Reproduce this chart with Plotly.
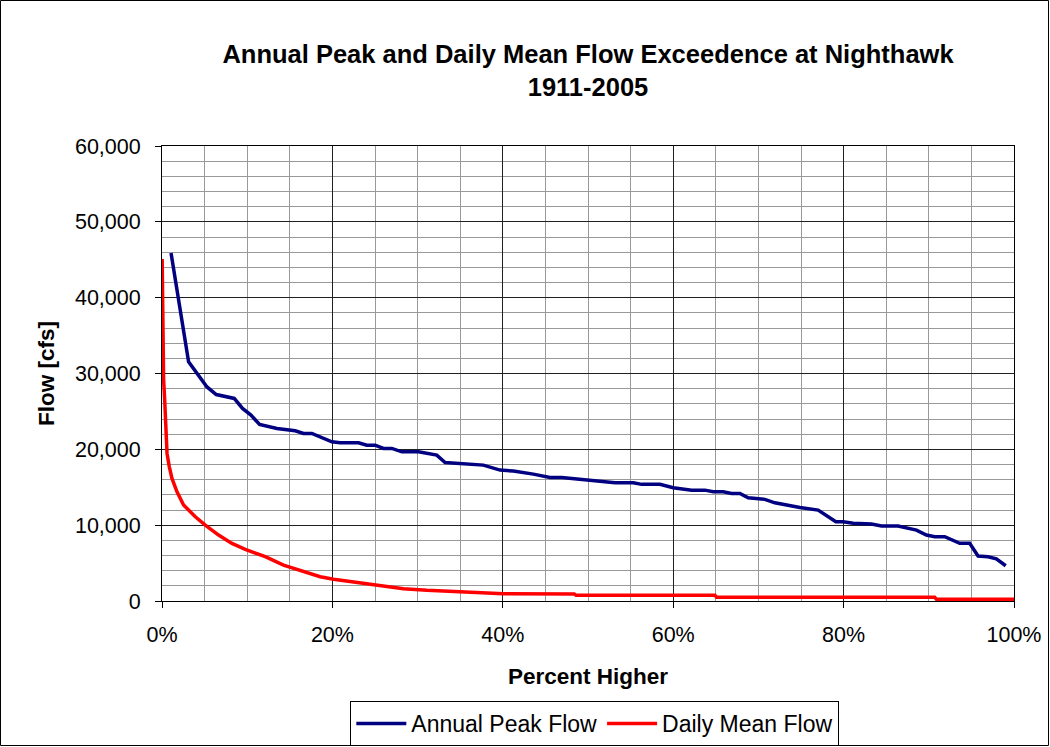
import plotly.graph_objects as go

# Annual peak flow exceedance (percent higher, cfs) - vertices
peak_pct = [1.06, 3.12, 5.28, 6.37, 8.48, 9.45, 10.44, 11.45, 13.49, 15.63, 16.61, 17.59,
            19.94, 20.91, 23.06, 24.04, 25.02, 25.99, 26.98, 28.15, 30.10, 32.25, 33.23,
            35.37, 37.72, 39.68, 41.24, 43.58, 45.54, 46.92, 50.03, 51.99, 53.17, 55.31,
            56.30, 58.44, 60.00, 62.16, 63.72, 64.70, 65.87, 66.85, 67.83, 68.80, 70.76,
            71.93, 74.87, 77.01, 78.00, 79.09, 79.94, 81.12, 83.27, 84.45, 86.39, 88.55,
            89.72, 90.70, 91.87, 93.63, 94.80, 95.78, 96.95, 97.93, 99.03]
peak_flow = [45900, 31530, 28230, 27230, 26710, 25390, 24510, 23280, 22750, 22440, 22090, 22090,
             20990, 20860, 20860, 20550, 20550, 20120, 20120, 19670, 19670, 19240, 18270,
             18140, 17920, 17260, 17130, 16730, 16300, 16300, 15940, 15810, 15590, 15590,
             15380, 15380, 14930, 14620, 14620, 14400, 14400, 14190, 14190, 13610, 13400,
             12950, 12320, 11990, 11240, 10450, 10450, 10240, 10140, 9880, 9880, 9350,
             8700, 8470, 8470, 7600, 7600, 5930, 5840, 5570, 4650]

# Daily mean flow exceedance - vertices
daily_pct = [0.02, 0.06, 0.10, 0.19, 0.30, 0.39, 0.50, 0.59, 0.86, 1.17, 1.76, 2.53, 3.91,
             5.08, 6.64, 8.21, 9.77, 12.12, 14.26, 16.61, 18.57, 20.13, 22.09, 24.43, 26.39,
             28.34, 31.08, 34.99, 40.07, 48.40, 48.60, 64.90, 65.10, 90.70, 90.90, 100.0]
daily_flow = [45100, 38000, 32000, 29120, 26900, 24730, 22090, 19460, 17690, 16160, 14400,
              12650, 11110, 10010, 8700, 7600, 6810, 5840, 4740, 3860, 3200, 2860, 2540,
              2200, 1880, 1620, 1410, 1190, 960, 920, 750, 750, 490, 490, 220, 220]

x_ticks = [0, 20, 40, 60, 80, 100]
y_ticks = [0, 10000, 20000, 30000, 40000, 50000, 60000]

FONT = "Arial, Liberation Sans, sans-serif"

fig = go.Figure()
fig.add_trace(go.Scatter(x=peak_pct, y=peak_flow, mode="lines", name="Annual Peak Flow",
                         line=dict(color="#000080", width=3.5)))
fig.add_trace(go.Scatter(x=daily_pct, y=daily_flow, mode="lines", name="Daily Mean Flow",
                         line=dict(color="#FF0000", width=3.5)))

L, R, T, B = 162, 36, 146, 146
W, H = 1050, 747
pw, ph = W - L - R, H - T - B

fig.update_layout(
    width=W, height=H,
    margin=dict(l=L, r=R, t=T, b=B, autoexpand=False),
    paper_bgcolor="white", plot_bgcolor="white",
    font=dict(family=FONT, size=21.5, color="black"),
    title=dict(text="<b>Annual Peak and Daily Mean Flow Exceedence at Nighthawk<br>1911-2005</b>",
               x=(L + pw / 2) / W, xanchor="center", xref="container",
               y=1 - 63 / H, yanchor="top", yref="container",
               font=dict(family=FONT, size=25.5, color="black")),
    showlegend=True,
    legend=dict(orientation="h", x=0.508, xanchor="center", y=(601 - 701) / ph, yanchor="top",
                bordercolor="black", borderwidth=1, bgcolor="white",
                font=dict(family=FONT, size=23), itemwidth=50, tracegroupgap=0),
    shapes=[dict(type="rect", xref="paper", yref="paper",
                 x0=-(L - 0.5) / pw, x1=(W - 1.5 - L) / pw,
                 y0=-(H - 1.5 - (H - B)) / ph, y1=(H - B - 0.5) / ph,
                 line=dict(color="black", width=1), layer="below")],
)

fig.update_xaxes(range=[0, 100], tickvals=x_ticks, ticktext=[f"{v}%" for v in x_ticks],
                 showgrid=True, gridcolor="#202020", gridwidth=1,
                 minor=dict(dtick=5, showgrid=True, gridcolor="#999999", gridwidth=1),
                 showline=True, linecolor="black", linewidth=1, mirror=True,
                 ticks="outside", ticklen=6, tickcolor="black", zeroline=False,
                 ticklabelstandoff=8,
                 title=dict(text="<b>Percent Higher</b>", font=dict(family=FONT, size=22.5),
                            standoff=22))
fig.update_yaxes(range=[0, 60000], tickvals=y_ticks, ticktext=[f"{v:,}" for v in y_ticks],
                 showgrid=True, gridcolor="#202020", gridwidth=1,
                 minor=dict(dtick=2000, showgrid=True, gridcolor="#999999", gridwidth=1),
                 showline=True, linecolor="black", linewidth=1, mirror=True,
                 ticks="outside", ticklen=6, tickcolor="black", zeroline=False,
                 ticklabelstandoff=10,
                 title=dict(text="<b>Flow [cfs]</b>", font=dict(family=FONT, size=22.5),
                            standoff=14))

fig.write_html("out.html", config={"displayModeBar": False},
               post_script="document.body.style.margin='0';document.body.style.overflow='hidden';")
